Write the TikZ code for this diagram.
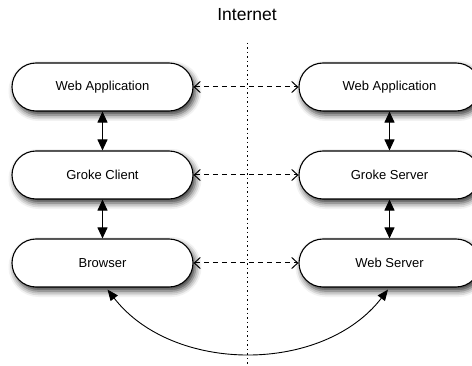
\documentclass[tikz,border=0pt]{standalone}
\usepackage{fontspec}
\setmainfont{Liberation Sans}
\usetikzlibrary{arrows.meta,shadows.blur,calc}
\begin{document}
\begin{tikzpicture}[x=1pt,y=-1pt,
  pill/.style={draw=black,line width=1.1pt,fill=white,rounded corners=24pt,
    minimum width=181pt,minimum height=48pt,inner sep=0pt,
    font=\fontsize{13}{15}\selectfont,
    blur shadow={shadow xshift=2.5pt,shadow yshift=-4pt,shadow blur radius=6pt,shadow opacity=80}},
  solidarrow/.style={line width=1pt,{Triangle[length=11pt,width=10pt]}-{Triangle[length=11pt,width=10pt]}},
  dasharrow/.style={line width=1pt,dash pattern=on 5.5pt off 3.5pt,
    {Straight Barb[length=6pt,width=11pt,line width=1pt]}-{Straight Barb[length=6pt,width=11pt,line width=1pt]}},
  curvearrow/.style={line width=0.9pt,{Triangle[length=11pt,width=9pt]}-{Triangle[length=11pt,width=9pt]}}
]
\useasboundingbox (0,0) rectangle (472,366);
\node[font=\fontsize{17.5}{20}\selectfont] (title) at (247,15) {Internet};
\coordinate (dtop) at (247,43);
\coordinate (dbot) at (247,366);
\draw[line width=0.9pt,dash pattern=on 1.1pt off 3.4pt] (dtop) -- (dbot);

\node[pill] (wa1) at (102.5,87) {Web Application};
\node[pill] (gc) at (102.5,175) {Groke Client};
\node[pill] (br) at (102.5,263) {Browser};
\node[pill] (wa2) at (389.5,87) {Web Application};
\node[pill] (gs) at (389.5,175) {Groke Server};
\node[pill] (ws) at (389.5,263) {Web Server};

\draw[solidarrow] (wa1) -- (gc);
\draw[solidarrow] (gc) -- (br);
\draw[solidarrow] (wa2) -- (gs);
\draw[solidarrow] (gs) -- (ws);

\draw[dasharrow] (wa1) -- (wa2);
\draw[dasharrow] (gc) -- (gs);
\draw[dasharrow] (br) -- (ws);

\coordinate (c1) at ($(br.south)+(5,2)$);
\coordinate (c2) at ($(ws.south)+(-1.5,2)$);
\draw[curvearrow] (c1) .. controls (173,374) and (323,374) .. (c2);
\end{tikzpicture}
\end{document}
